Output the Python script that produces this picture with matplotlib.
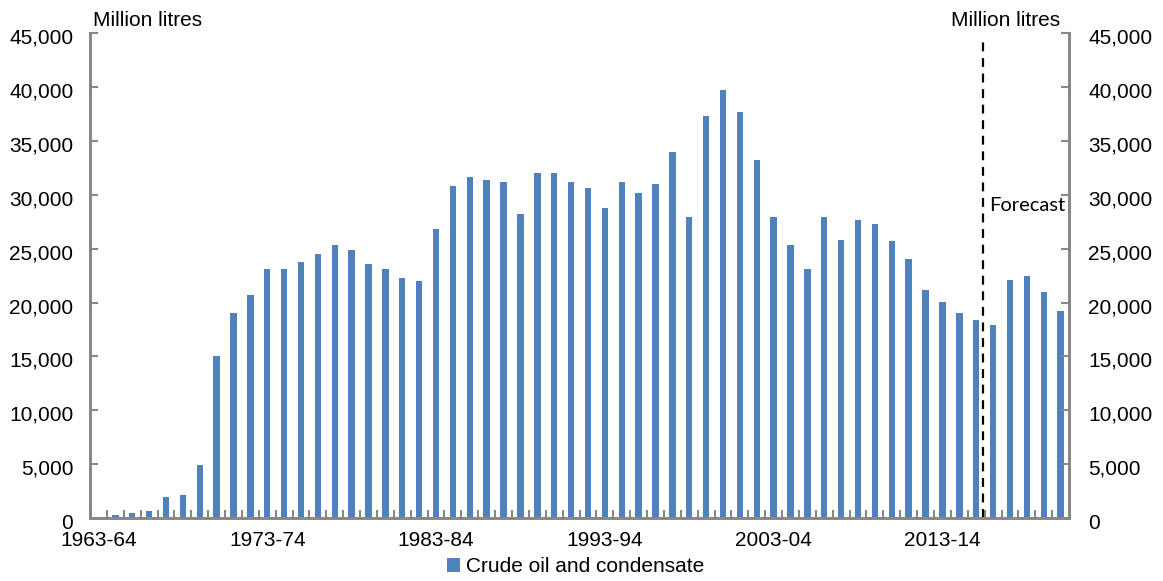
import matplotlib
matplotlib.use("Agg")
import matplotlib.pyplot as plt
import matplotlib.transforms as mtransforms
from matplotlib.ticker import FuncFormatter, FixedLocator
import numpy as np

start_years = list(range(1963, 2021))
categories = [f"{y}-{str(y + 1)[-2:]}" for y in start_years]
values = [50, 250, 490, 650, 1950, 2130, 4920, 15000, 19000, 20700,
          23100, 23100, 23800, 24500, 25300, 24900, 23600, 23100, 22300, 22000,
          26800, 30800, 31700, 31400, 31200, 28200, 32000, 32000, 31200, 30600,
          28800, 31200, 30200, 31000, 34000, 27900, 37300, 39700, 37700, 33200,
          27900, 25300, 23100, 27900, 25800, 27700, 27300, 25700, 24000, 21200,
          20100, 19000, 18400, 17900, 22100, 22500, 21000, 19200]
label_every = 10
forecast_start = "2016-17"
series_name = "Crude oil and condensate"
unit = "Million litres"

font = ["Liberation Sans", "DejaVu Sans"]
plt.rcParams["font.family"] = font

fig = plt.figure(figsize=(11.63, 5.81), dpi=100)
ax = fig.add_axes([0.0774, 0.1084, 0.8418, 0.8343])
x = np.arange(len(categories))
ax.bar(x, values, width=0.38, color="#4F81BD", label=series_name, zorder=2)

ax.set_xlim(-0.5, len(categories) - 0.5)
ax.set_ylim(0, 45000)
ax.set_yticks(np.arange(0, 45001, 5000))
fmt = FuncFormatter(lambda v, p: f"{int(v):,}")
ax.yaxis.set_major_formatter(fmt)

ax.set_xticks(x[::label_every])
ax.set_xticklabels(categories[::label_every])
ax.xaxis.set_minor_locator(FixedLocator(np.arange(-0.5, len(categories), 1.0)))
ax.tick_params(axis="x", which="major", length=0, labelsize=15, pad=9)
ax.tick_params(axis="x", which="minor", direction="in", length=6, width=1.5, color="#888888")
ax.tick_params(axis="y", direction="in", length=6, width=1.5, color="#888888", labelsize=15, pad=12)

for s in ["left", "bottom", "right"]:
    ax.spines[s].set_color("#888888")
    ax.spines[s].set_linewidth(2)
ax.spines["top"].set_visible(False)

ax2 = ax.twinx()
ax2.set_ylim(0, 45000)
ax2.set_yticks(np.arange(0, 45001, 5000))
ax2.yaxis.set_major_formatter(fmt)
ax2.tick_params(axis="y", direction="in", length=6, width=1.5, color="#888888", labelsize=15, pad=14)
for s in ["left", "bottom", "right"]:
    ax2.spines[s].set_color("#888888")
    ax2.spines[s].set_linewidth(2)
ax2.spines["top"].set_visible(False)

shift = mtransforms.ScaledTranslation(0, -3 / 100, fig.dpi_scale_trans)
for lab in ax.get_yticklabels() + ax2.get_yticklabels():
    lab.set_transform(lab.get_transform() + shift)

fi = categories.index(forecast_start)
ax.plot([fi - 0.58, fi - 0.58], [0, 44300], color="black", lw=1.6, ls=(0, (4, 3)), zorder=3)
ax.text(fi - 0.25, 29000, "Forecast", fontsize=14.5, family=["Lato", "DejaVu Sans"],
        va="center", ha="left")

fig.text(93 / 1163, 1 - 26 / 581, unit, fontsize=15, ha="left", va="baseline")
fig.text(1060 / 1163, 1 - 26 / 581, unit, fontsize=15, ha="right", va="baseline")

ax.legend(loc="center", bbox_to_anchor=(0.495, 1 - 567 / 581), bbox_transform=fig.transFigure,
          frameon=False, fontsize=15, handlelength=0.65, handleheight=0.65,
          handletextpad=0.3, borderaxespad=0)

fig.savefig("out.png", dpi=100)
